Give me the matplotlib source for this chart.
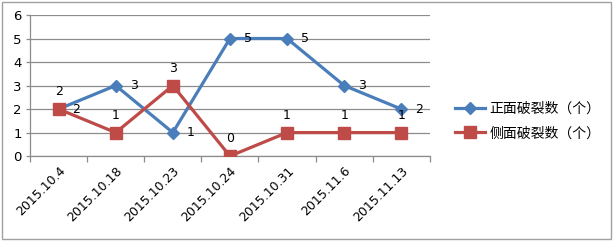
import matplotlib
matplotlib.use("Agg")
import matplotlib.pyplot as plt
from matplotlib.patches import Rectangle
import numpy as np

plt.rcParams['font.family'] = ['Noto Sans CJK SC', 'DejaVu Sans']

dates = ["2015.10.4", "2015.10.18", "2015.10.23", "2015.10.24", "2015.10.31", "2015.11.6", "2015.11.13"]
front = [2, 3, 1, 5, 5, 3, 2]
side = [2, 1, 3, 0, 1, 1, 1]
front_name = "正面破裂数（个）"
side_name = "侧面破裂数（个）"

blue = "#4A7EBB"
red = "#BE4B48"
grid_c = "#8c8c8c"

fig = plt.figure(figsize=(6.14, 2.42), dpi=100)
fig.patches.append(Rectangle((0.004, 0.012), 0.991, 0.978, transform=fig.transFigure,
                             fill=False, edgecolor="#a0a0a0", linewidth=1.0))
ax = fig.add_axes([0.049, 0.355, 0.651, 0.583])

x = np.arange(len(dates))
ax.plot(x, front, color=blue, lw=2.3, marker="D", ms=6.5, mfc=blue, mec=blue,
        label=front_name, zorder=3)
ax.plot(x, side, color=red, lw=2.3, marker="s", ms=8.5, mfc=red, mec=red,
        label=side_name, zorder=3)

for xi, v in zip(x, front):
    ax.annotate(str(v), (xi, v), xytext=(10, 0), textcoords="offset points",
                ha="left", va="center", fontsize=9, family="DejaVu Sans")
for xi, v in zip(x, side):
    ax.annotate(str(v), (xi, v), xytext=(0, 12.5), textcoords="offset points",
                ha="center", va="center", fontsize=9, family="DejaVu Sans")

ax.set_xlim(-0.5, len(dates) - 0.5)
ax.set_ylim(0, 6)
ax.set_yticks(range(0, 7))
ax.yaxis.grid(True, color=grid_c, lw=0.9)
ax.set_axisbelow(True)
ax.set_xticks(x)
ax.set_xticklabels(dates, rotation=45, ha="right", rotation_mode="anchor",
                   fontsize=9, family="DejaVu Sans")
ax.set_xticks(np.arange(-0.5, len(dates)), minor=True)
ax.tick_params(axis="x", which="major", length=0, pad=6)
ax.tick_params(axis="x", which="minor", length=4, color=grid_c, width=0.9)
ax.tick_params(axis="y", length=3, color=grid_c, width=0.9, labelsize=9.5, pad=3)
for lab in ax.get_yticklabels():
    lab.set_family("DejaVu Sans")
for s in ["top", "right"]:
    ax.spines[s].set_visible(False)
ax.spines["left"].set_color(grid_c)
ax.spines["bottom"].set_color(grid_c)
ax.spines["left"].set_linewidth(0.9)
ax.spines["bottom"].set_linewidth(0.9)

leg = fig.legend(loc="center left", bbox_to_anchor=(0.72, 0.5), frameon=False,
                 fontsize=10, handlelength=2.2, handletextpad=0.3, labelspacing=0.75)

fig.savefig("out.png", dpi=100)
